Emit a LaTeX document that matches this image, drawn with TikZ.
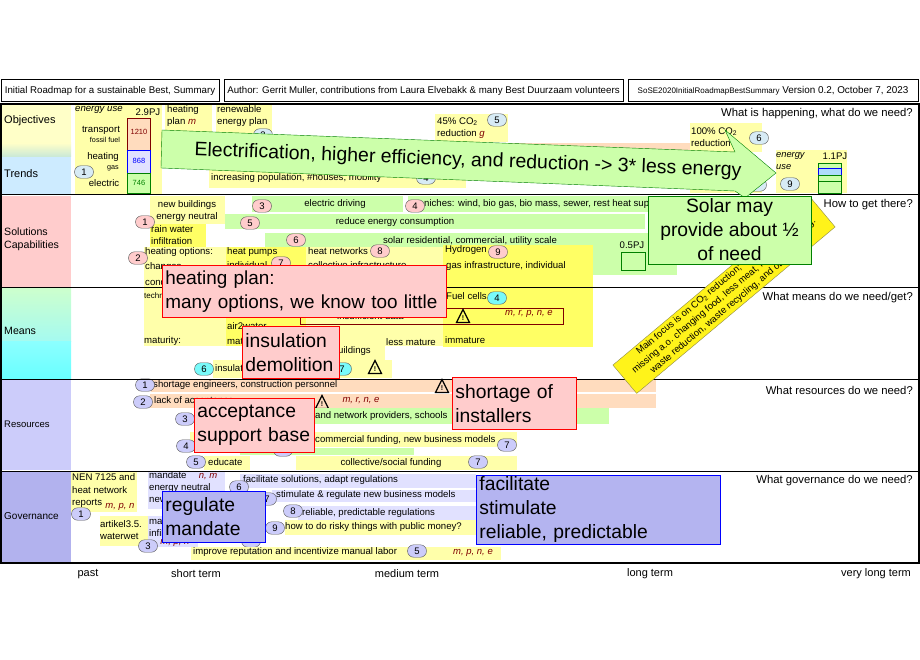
\documentclass[tikz,border=0pt]{standalone}
\usepackage{fontspec}
\setmainfont{Liberation Sans}
\usepackage{xcolor}
\usetikzlibrary{shapes.misc}

\definecolor{ylwlight}{RGB}{255,255,170}
\definecolor{ylwbright}{RGB}{255,255,100}
\definecolor{grnlight}{RGB}{204,255,170}
\definecolor{salmon}{RGB}{255,220,190}
\definecolor{callpink}{RGB}{255,204,204}
\definecolor{callblue}{RGB}{180,180,240}
\definecolor{lavlight}{RGB}{225,225,255}
\definecolor{lavrow}{RGB}{204,204,250}
\definecolor{lavgov}{RGB}{178,178,238}
\definecolor{inkred}{RGB}{128,0,0}
\definecolor{inkgreen}{RGB}{0,128,0}
\definecolor{bubblesky}{RGB}{215,235,245}
\definecolor{bubblecyan}{RGB}{120,250,250}

\tikzset{
  lbl/.style={anchor=west, inner sep=0pt, align=left, font=\fontsize{9.6}{12}\selectfont},
  lblmid/.style={inner sep=0pt, align=center, font=\fontsize{9.6}{12}\selectfont},
  question/.style={anchor=east, inner sep=0pt, font=\fontsize{11.3}{13}\selectfont},
  timelbl/.style={inner sep=0pt, font=\fontsize{11}{13}\selectfont},
  hdrbox/.style={draw=black, line width=1pt, inner sep=0pt, minimum height=22pt, font=\fontsize{9.7}{11}\selectfont},
  subject/.style={lbl, font=\fontsize{10.6}{13}\selectfont},
  fact/.style={inner sep=0pt, font=\itshape\fontsize{9.5}{11}\selectfont, text=inkred},
  bubble/.style={rounded rectangle, draw=black!65, inner sep=0pt, minimum width=19pt, minimum height=12.5pt, font=\fontsize{9.5}{10}\selectfont},
  bsky/.style={bubble, fill=bubblesky},
  bpink/.style={bubble, fill=callpink},
  bcyan/.style={bubble, fill=bubblecyan},
  blav/.style={bubble, fill=lavrow},
  callout/.style={anchor=north west, inner xsep=3pt, inner ysep=0pt, align=left, line width=0.8pt, font=\fontsize{19.3}{24}\selectfont},
  redcall/.style={callout, draw=red, fill=callpink},
  bluecall/.style={callout, draw=blue, fill=callblue},
  warnsign/.pic={
    \draw[line width=1.2pt, line join=miter, fill=none] (-6.5,6.5) -- (0,-6.5) -- (6.5,6.5) -- cycle;
    \node[inner sep=0pt, font=\bfseries\fontsize{7}{8}\selectfont] at (0,2) {!};
  }
}

\begin{document}
\begin{tikzpicture}[x=1pt, y=-1pt]
  \useasboundingbox (0,0) rectangle (920,660);

  % Header
  \node[hdrbox, minimum width=218pt] (title) at (110,91) {Initial Roadmap for a sustainable Best, Summary};
  \node[hdrbox, minimum width=399pt] (author) at (423.5,91) {Author: Gerrit Muller, contributions from Laura Elvebakk \& many Best Duurzaam volunteers};
  \node[hdrbox, minimum width=290pt] (version) at (773,91) {{\fontsize{8}{9}\selectfont SoSE2020InitialRoadmapBestSummary} {\fontsize{9.9}{11}\selectfont Version 0.2, October 7, 2023}};

  % Left column
  \fill[color={rgb,255:red,255;green,255;blue,200}] (2,105) rectangle (71,143);
  \shade[top color={rgb,255:red,255;green,255;blue,200}, bottom color={rgb,255:red,200;green,232;blue,215}] (2,143) rectangle (71,157);
  \fill[color={rgb,255:red,205;green,235;blue,255}] (2,157) rectangle (71,194);
  \fill[callpink] (2,196) rectangle (71,287);
  \shade[top color={rgb,255:red,205;green,255;blue,205}, bottom color={rgb,255:red,165;green,250;blue,240}] (2,288) rectangle (71,341);
  \shade[top color={rgb,255:red,140;green,255;blue,255}, bottom color={rgb,255:red,105;green,255;blue,255}] (2,341) rectangle (71,378);
  \fill[lavrow] (2,380) rectangle (71,470);
  \fill[lavgov] (2,472) rectangle (71,562);

  \node[subject, font=\fontsize{11}{13}\selectfont] (objectives) at (4,121) {Objectives};
  \node[subject, font=\fontsize{11}{13}\selectfont] (trends) at (4,174) {Trends};
  \node[subject] (solutions) at (4,239) {Solutions\\Capabilities};
  \node[lbl, font=\fontsize{10.6}{12}\selectfont] (means) at (4,331) {Means};
  \node[lbl, font=\fontsize{9.5}{11}\selectfont] (resources) at (4,424) {Resources};
  \node[lbl, font=\fontsize{10}{12}\selectfont] (governance) at (4,516) {Governance};

  % Objectives and trends
  \fill[ylwlight] (75,105) rectangle (162,194);
  \node[lbl, font=\itshape\fontsize{9.6}{11}\selectfont] (useleft) at (75,110) {energy use};
  \node[lblmid] (pjleft) at (148,112) {2.9PJ};
  \node[lblmid] (transport) at (101,130) {transport};
  \node[lblmid, font=\fontsize{7.2}{8}\selectfont] (fossil) at (105,139.5) {fossil fuel};
  \node[lblmid] (heating) at (103,157) {heating};
  \node[lblmid, font=\fontsize{7.2}{8}\selectfont] (gas) at (113,168) {gas};
  \node[lblmid] (electric) at (104,183) {electric};
  \node[bsky] (obj1) at (84,172) {1};
  \draw[draw=inkred, fill=salmon] (127.5,118.5) rectangle (150.5,150.5);
  \draw[draw=blue, fill=lavlight] (127.5,150.5) rectangle (150.5,173.5);
  \draw[draw=inkgreen, fill=grnlight] (127.5,173.5) rectangle (150.5,193);
  \node[lblmid, font=\fontsize{7.5}{8}\selectfont, text=inkred] (num1210) at (139,131.5) {1210};
  \node[lblmid, font=\fontsize{7.5}{8}\selectfont, text=blue] (num868) at (139,161) {868};
  \node[lblmid, font=\fontsize{7.5}{8}\selectfont, text=inkgreen] (num746) at (139,183) {746};

  \fill[ylwlight] (165,105) rectangle (212,135);
  \node[lbl] (heatplan) at (167,116) {heating\\plan {\itshape\color{inkred} m}};
  \fill[ylwlight] (216,105) rectangle (272,152);
  \node[lbl] (renewplan) at (217,116) {renewable\\energy plan};
  \node[bsky] (obj3) at (263,135) {3};
  \fill[ylwlight] (209,166) rectangle (466,188);
  \node[lbl] (population) at (211,178) {increasing population, \#houses, mobility};
  \node[bsky] (obj4) at (426,178) {4};
  \fill[ylwlight] (435,114) rectangle (508,142);
  \node[lbl] (co45) at (437,128) {45\% CO\textsubscript{2}\\reduction {\itshape\color{inkred} g}};
  \node[bsky] (obj5) at (497,120) {5};
  \fill[salmon] (508,143) rectangle (690,160);
  \fill[ylwlight] (690,123) rectangle (762,152);
  \node[lbl] (co100) at (691,137) {100\% CO\textsubscript{2}\\reduction};
  \node[bsky] (obj6) at (759,138) {6};
  \fill[ylwlight] (690,172) rectangle (762,193);
  \node[bsky] (obj8) at (757,185) {};
  \fill[ylwlight] (776,150) rectangle (847,193);
  \node[lbl, font=\itshape\fontsize{9.3}{12}\selectfont] (useright) at (776,161) {energy\\use};
  \node[lblmid] (pjright) at (835,156) {1.1PJ};
  \node[bsky] (obj9) at (790,184) {9};
  \draw[draw=inkgreen, fill=grnlight] (818,163.5) rectangle (841,168);
  \draw[draw=blue, fill={rgb,255:red,175;green,220;blue,250}] (818,168) rectangle (841,175);
  \draw[draw=inkgreen, fill=grnlight] (818,175) rectangle (841,181);
  \draw[draw=inkgreen, fill=grnlight] (818,181) rectangle (841,193);

  % Solutions and capabilities
  \fill[grnlight] (252,196) rectangle (403,212);
  \node[lblmid] (driving) at (335,204) {electric driving};
  \node[bpink] (sol3) at (262,206) {3};
  \fill[grnlight] (408,196) rectangle (650,212);
  \node[lbl] (niches) at (424,204) {niches: wind, bio gas, bio mass, sewer, rest heat supply};
  \node[bpink] (sol4) at (415,206) {4};
  \fill[grnlight] (225,214) rectangle (645,229);
  \node[lblmid] (reduce) at (395,222) {reduce energy consumption};
  \node[bpink] (sol5) at (250,223) {5};
  \fill[grnlight] (265,233) rectangle (677,275);
  \node[lblmid] (solar) at (470,241) {solar residential, commercial, utility scale};
  \node[bpink] (sol6) at (296,240) {6};
  \node[lblmid] (pjsolar) at (632,245) {0.5PJ};
  \draw[draw=inkgreen, fill=grnlight] (621,252) rectangle (645,270);

  \fill[ylwlight] (150,196) rectangle (225,224);
  \node[lblmid] (newbuild) at (187,211) {new buildings\\energy neutral};
  \fill[ylwbright] (150,224) rectangle (206,247);
  \node[lbl] (rain) at (151,235.5) {rain water\\infiltration};
  \node[bpink] (sol1) at (145,222) {1};

  \fill[ylwlight] (144,247) rectangle (226,346);
  \fill[ylwbright] (226,247) rectangle (306,346);
  \fill[ylwlight] (306,247) rectangle (443,346);
  \fill[ylwbright] (443,245) rectangle (593,347);
  \fill[ylwlight] (300,346) rectangle (385,360);
  \fill[ylwlight] (213,360) rectangle (392,378);

  \node[lbl] (heatopts) at (145,252) {heating options:};
  \node[lbl] (changes) at (145,267) {changes};
  \node[lbl] (condit) at (145,282) {conditions};
  \node[lbl] (heatpumps) at (227,252) {heat pumps};
  \node[lbl] (individ) at (227,265) {individual};
  \node[bpink] (sol7) at (281,263) {7};
  \node[lbl] (heatnet) at (308,251) {heat networks};
  \node[bpink] (sol8) at (380,251) {8};
  \node[lbl] (collect) at (308,265) {collective infrastructure};
  \node[lbl] (hydrogen) at (445,250.5) {Hydrogen};
  \node[bpink] (sol9) at (498,252) {9};
  \node[lbl] (gasinfra) at (446,266) {gas infrastructure, individual};
  \node[bpink] (sol2) at (138,258) {2};

  % Means
  \node[lbl, font=\fontsize{8}{10}\selectfont] (tech) at (144,296) {technology};
  \node[lbl] (fuelcells) at (446,296) {Fuel cells};
  \node[bcyan] (mean4) at (497,298) {4};
  \node[lbl] (insuff) at (337,316) {insufficient data};
  \draw[draw=inkred, line width=0.8pt] (300,308) rectangle (563,324);
  \pic at (463,316) {warnsign};
  \node[fact] (factmeans) at (529,314) {m, r, p, n, e};
  \node[lbl] (airwater) at (227,326) {air2water};
  \node[lbl] (maturity) at (144,341) {maturity:};
  \node[lbl] (mature) at (227,341) {mature};
  \node[lbl] (lessmat) at (386,342) {less mature};
  \node[lbl] (immature) at (445,340) {immature};
  \node[lbl, anchor=east] (buildings) at (371,351) {buildings};
  \node[bcyan] (mean6) at (204,369) {6};
  \node[lbl] (insul) at (215,368) {insulation};
  \node[bcyan] (mean7) at (342,369) {7};
  \pic at (375,367) {warnsign};

  % Resources
  \fill[salmon] (151,379) rectangle (656,392);
  \node[lbl] (shortage) at (153,385.5) {shortage engineers, construction personnel};
  \node[blav] (res1) at (145,385) {1};
  \pic at (442,386) {warnsign};
  \fill[salmon] (150,394) rectangle (656,408);
  \node[lbl] (lack) at (154,401) {lack of acceptance};
  \node[blav] (res2) at (143,402) {2};
  \pic at (322,402) {warnsign};
  \node[fact] (factres) at (361,401) {m, r, n, e};
  \fill[grnlight] (194,408) rectangle (609,424);
  \node[lbl] (netprov) at (315,416) {and network providers, schools};
  \node[blav] (res3) at (185,419) {3};
  \fill[ylwlight] (190,432) rectangle (517,447);
  \node[lbl] (commerc) at (315,440) {commercial funding, new business models};
  \node[blav] (res7a) at (507,445) {7};
  \fill[grnlight] (240,448) rectangle (414,455);
  \node[blav] (res6) at (283,450) {};
  \node[blav] (res4) at (186,446) {4};
  \fill[ylwlight] (204,456) rectangle (250,470);
  \node[lbl] (educate) at (208,462) {educate};
  \node[blav] (res5) at (196,462) {5};
  \fill[ylwlight] (296,456) rectangle (517,470);
  \node[lblmid] (social) at (391,463) {collective/social funding};
  \node[blav] (res7b) at (478,462) {7};

  % Governance
  \fill[ylwlight] (71,472) rectangle (137,512);
  \node[lbl, font=\fontsize{9.6}{12.5}\selectfont] (nen) at (72,491) {NEN 7125 and\\heat network\\reports};
  \node[fact] (factnen) at (120,507) {m, p, n};
  \node[blav] (gov1) at (81,514) {1};
  \fill[ylwlight] (100,516) rectangle (149,546);
  \node[lbl] (artikel) at (100,530.5) {artikel3.5.\\waterwet};
  \fill[lavlight] (148,472) rectangle (225,509);
  \node[lbl] (mandate) at (149,488) {mandate\\energy neutral\\new buildings};
  \node[fact] (factmand) at (208,477) {n, m};
  \fill[lavlight] (148,516) rectangle (198,547);
  \node[lbl] (mandinf) at (149,527) {mandate\\infiltration};
  \node[fact] (factinf) at (175,543) {m, p, n};
  \node[blav] (gov3) at (148,546) {3};

  \fill[lavlight] (240,474) rectangle (476,488);
  \node[lbl] (facil) at (243,480) {facilitate solutions, adapt regulations};
  \node[blav] (gov6) at (239,487) {6};
  \fill[lavlight] (272,490) rectangle (476,502);
  \node[lbl] (stim) at (276,495.5) {stimulate \& regulate new business models};
  \node[blav] (gov7) at (267,499) {7};
  \fill[lavlight] (298,506) rectangle (476,520);
  \node[lbl] (reliable) at (302,513) {reliable, predictable regulations};
  \node[blav] (gov8) at (293,511) {8};
  \fill[ylwlight] (285,520) rectangle (476,535);
  \node[lbl] (risky) at (285,527.5) {how to do risky things with public money?};
  \node[blav] (gov9) at (275,528) {9};
  \node[blav] (gov4) at (251,541) {};
  \fill[ylwlight] (191,547) rectangle (501,560);
  \node[lbl] (improve) at (193,552) {improve reputation and incentivize manual labor};
  \node[blav] (gov5) at (417,551) {5};
  \node[fact] (factimp) at (473,553) {m, p, n, e};

  % Frame
  \draw[line width=1.2pt] (1,104) rectangle (919,563);
  \draw[line width=1pt] (1,195) -- (919,195);
  \draw[line width=0.8pt] (1,287) -- (919,287);
  \draw[line width=1pt] (1,379) -- (919,379);
  \draw[line width=1pt] (1,471) -- (919,471);

  % Questions
  \node[question] (qhappen) at (913,114) {What is happening, what do we need?};
  \node[question] (qget) at (913,205) {How to get there?};
  \node[question] (qmeans) at (913,298) {What means do we need/get?};
  \node[question] (qres) at (913,390) {What resources do we need?};
  \node[question] (qgov) at (913,481) {What governance do we need?};

  % Time axis
  \node[timelbl] (past) at (88,574) {past};
  \node[timelbl] (shortterm) at (196,574) {short term};
  \node[timelbl] (medterm) at (407,574) {medium term};
  \node[timelbl] (longterm) at (650,574) {long term};
  \node[timelbl] (verylong) at (876,574) {very long term};

  % Big arrow
  \draw[draw=inkgreen, fill=grnlight]
     (162,130) -- (735,152) -- (725,130) -- (776,173) -- (745,198) -- (735,191) -- (161,168) -- cycle;
  \node[inner sep=0pt, rotate=-2.2, font=\fontsize{19.5}{24}\selectfont] (arrowtext) at (468,161)
     {Electrification, higher efficiency, and reduction -> 3* less energy};

  % Diagonal banner
  \node[draw=black!50!yellow, fill=yellow!90!white, rotate=40, minimum width=259pt, minimum height=37pt, inner sep=0pt,
        align=center, font=\fontsize{9.5}{11.6}\selectfont] (focus) at (724,296)
     {Main focus is on CO\textsubscript{2} reduction;\hphantom{xxxxxxxxxxxxxxx}\\missing a.o. changing food, less meat, less air traveling.\\waste reduction, waste recycling, and others too?};

  % Callouts
  \node[draw=inkgreen, fill=grnlight, line width=0.8pt, minimum width=163pt, minimum height=68pt, inner sep=0pt, align=center,
        font=\fontsize{19.3}{24}\selectfont] (solarcall) at (729.5,230) {Solar may\\provide about ½\\of need};
  \node[redcall, text width=278pt, minimum height=52.5pt, font=\fontsize{18.9}{24}\selectfont] (heatcall) at (162,264.5) {heating plan:\\many options, we know too little};
  \node[redcall, text width=91pt, minimum height=52pt] (insulcall) at (242,326) {insulation\\demolition};
  \node[redcall, text width=118pt, minimum height=52pt] (shortcall) at (452,377) {shortage of\\installers};
  \node[redcall, text width=114pt, minimum height=54pt] (acceptcall) at (194,398) {acceptance\\support base};
  \node[bluecall, text width=97pt, minimum height=51pt] (regcall) at (162,491) {regulate\\mandate};
  \node[bluecall, text width=238pt, minimum height=69pt] (faccall) at (476,475) {facilitate\\stimulate\\reliable, predictable};
\end{tikzpicture}
\end{document}
